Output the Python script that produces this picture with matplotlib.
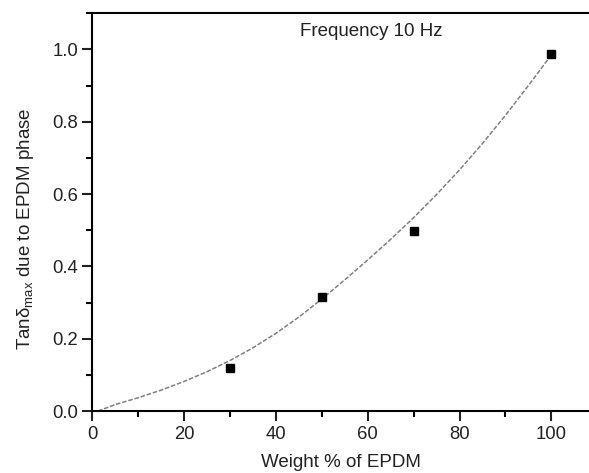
import matplotlib
matplotlib.use("Agg")
from matplotlib import pyplot as plt
from matplotlib.ticker import MultipleLocator

# measured points
weight = [30, 50, 70, 100]
tan_delta = [0.118, 0.316, 0.499, 0.986]

# fitted curve
curve_x = [1.2, 5, 10, 15, 20, 25, 30, 35, 40, 45, 50,
           55, 60, 65, 70, 75, 80, 85, 90, 95, 100]
curve_y = [0.0, 0.018, 0.037, 0.058, 0.082, 0.109, 0.140, 0.175, 0.215, 0.260, 0.310,
           0.363, 0.418, 0.475, 0.535, 0.599, 0.667, 0.740, 0.818, 0.900, 0.985]

plt.rcParams['font.family'] = ['Liberation Sans', 'DejaVu Sans']
plt.rcParams['mathtext.fontset'] = 'custom'
plt.rcParams['mathtext.rm'] = 'Liberation Sans'

fig = plt.figure(figsize=(5.89, 4.73), dpi=100)
ax = fig.add_axes([0.157, 0.131, 0.843, 0.841])

ax.plot(curve_x, curve_y, color='0.5', linewidth=1.1, linestyle=(0, (3, 1.2)))
ax.plot(weight, tan_delta, 's', color='black', markersize=6)

ax.set_xlim(0, 108.2)
ax.set_ylim(0, 1.10)
ax.xaxis.set_major_locator(MultipleLocator(20))
ax.xaxis.set_minor_locator(MultipleLocator(10))
ax.yaxis.set_major_locator(MultipleLocator(0.2))
ax.yaxis.set_minor_locator(MultipleLocator(0.1))
ax.yaxis.set_major_formatter(plt.FormatStrFormatter('%.1f'))

ax.spines['right'].set_visible(False)
for s in ['left', 'bottom', 'top']:
    ax.spines[s].set_linewidth(1.5)
ax.tick_params(which='major', direction='out', length=7, width=1.5, labelsize=13.3, colors='#222222')
ax.tick_params(which='minor', direction='out', length=4.5, width=1.5)
ax.tick_params(top=False, right=False)

ax.set_xlabel('Weight % of EPDM', fontsize=13.5, color='#222222', labelpad=8)
ax.set_ylabel(r'Tanδ$_{\mathrm{max}}$ due to EPDM phase', fontsize=13.5, color='#222222')
ax.yaxis.set_label_coords(-0.113, 0.457)
ax.text(45.2, 1.05, 'Frequency 10 Hz', fontsize=13.5, color='#222222', va='center')

plt.savefig('out.png', dpi=100)
